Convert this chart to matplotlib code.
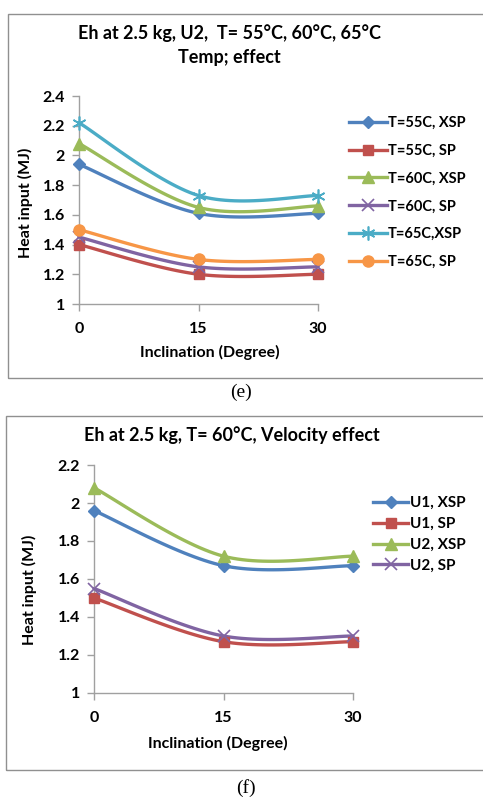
import numpy as np
import matplotlib
matplotlib.use("Agg")
import matplotlib.pyplot as plt
from matplotlib.patches import Rectangle

# ---------------- data ----------------
inclination = [0, 15, 30]

temp_labels = ["T=55C, XSP", "T=55C, SP", "T=60C, XSP", "T=60C, SP", "T=65C,XSP", "T=65C, SP"]
t55_xsp = [1.94, 1.61, 1.61]
t55_sp = [1.40, 1.20, 1.20]
t60_xsp = [2.08, 1.65, 1.66]
t60_sp = [1.45, 1.25, 1.25]
t65_xsp = [2.22, 1.73, 1.73]
t65_sp = [1.50, 1.30, 1.30]

vel_labels = ["U1, XSP", "U1, SP", "U2, XSP", "U2, SP"]
u1_xsp = [1.96, 1.67, 1.67]
u1_sp = [1.50, 1.27, 1.27]
u2_xsp = [2.08, 1.72, 1.72]
u2_sp = [1.55, 1.30, 1.30]

top_yticks = [1, 1.2, 1.4, 1.6, 1.8, 2, 2.2, 2.4]
bot_yticks = [1, 1.2, 1.4, 1.6, 1.8, 2, 2.2]

BLUE, RED, GREEN, PURPLE, AQUA, ORANGE = "#4F81BD", "#C0504D", "#9BBB59", "#8064A2", "#4BACC6", "#F79646"

W, H = 483, 798
FONT = "Lato"

plt.rcParams["font.family"] = [FONT, "DejaVu Sans"]
plt.rcParams["font.weight"] = "bold"

fig = plt.figure(figsize=(W / 100, H / 100), dpi=100)


def smooth(x, y, n=30):
    x = np.asarray(x, float)
    y = np.asarray(y, float)
    P = np.column_stack([x, y])
    Pe = np.vstack([P[0], P, P[-1]])
    out = []
    t = np.linspace(0, 1, n)[:, None]
    for i in range(len(P) - 1):
        p0, p3 = P[i], P[i + 1]
        c1 = p0 + (Pe[i + 2] - Pe[i]) / 6
        c2 = p3 - (Pe[i + 3] - Pe[i + 1]) / 6
        seg = ((1 - t) ** 3) * p0 + 3 * ((1 - t) ** 2) * t * c1 + 3 * (1 - t) * t ** 2 * c2 + t ** 3 * p3
        out.append(seg if i == 0 else seg[1:])
    s = np.vstack(out)
    return s[:, 0], s[:, 1]


def px_axes(left, top, right, bottom):
    return fig.add_axes([left / W, 1 - bottom / H, (right - left) / W, (bottom - top) / H])


def style_axes(ax, ymin, ymax, yticks):
    ax.set_xlim(0, 30)
    ax.set_ylim(ymin, ymax)
    ax.set_xticks(inclination)
    ax.set_yticks(yticks)
    ax.set_yticklabels([("%g" % v) for v in yticks])
    for s in ["top", "right"]:
        ax.spines[s].set_visible(False)
    for s in ["left", "bottom"]:
        ax.spines[s].set_color("#A0A0A0")
        ax.spines[s].set_linewidth(1.0)
    ax.tick_params(axis="both", colors="#A0A0A0", length=5, width=1.0, direction="out",
                   labelcolor="black", labelsize=11.5)
    ax.tick_params(axis="x", pad=8)
    ax.tick_params(axis="y", pad=5)
    for lbl in ax.get_xticklabels() + ax.get_yticklabels():
        lbl.set_fontweight("bold")
    ax.set_facecolor("none")


def plot_series(ax, y, color, marker, label, ms=7):
    xs, ys = smooth(inclination, y)
    ax.plot(xs, ys, color=color, lw=2.4, solid_capstyle="round", clip_on=False)
    mkw = dict(color=color, markersize=ms, clip_on=False, zorder=5)
    thin = marker in ("x", (6, 2, 0))
    if thin:
        mkw.update(markeredgewidth=1.2, markerfacecolor="none")
    ax.plot(inclination, y, ls="none", marker=marker, **mkw)
    handle = ax.plot([], [], color=color, lw=2.4, marker=marker,
                     markersize=ms, markeredgewidth=1.2 if thin else 1.0)[0]
    handle.set_label(label)
    return handle


# ---------------- frames ----------------
fig.add_artist(Rectangle((8 / W, 1 - 378 / H), (W + 5 - 8) / W, (378 - 14) / H,
                         transform=fig.transFigure, fill=False, edgecolor="#909090", lw=1.0))
fig.add_artist(Rectangle((6 / W, 1 - 770 / H), (W + 5 - 6) / W, (770 - 416) / H,
                         transform=fig.transFigure, fill=False, edgecolor="#909090", lw=1.0))

# ---------------- top chart ----------------
ax1 = px_axes(79, 96, 318, 304)
style_axes(ax1, 1, 2.4, top_yticks)
h = []
h.append(plot_series(ax1, t55_xsp, BLUE, "D", temp_labels[0], 6))
h.append(plot_series(ax1, t55_sp, RED, "s", temp_labels[1], 7))
h.append(plot_series(ax1, t60_xsp, GREEN, "^", temp_labels[2], 8))
h.append(plot_series(ax1, t60_sp, PURPLE, "x", temp_labels[3], 8))
h.append(plot_series(ax1, t65_xsp, AQUA, (6, 2, 0), temp_labels[4], 10))
h.append(plot_series(ax1, t65_sp, ORANGE, "o", temp_labels[5], 8))
fig.legend(handles=h, loc="upper left", bbox_to_anchor=(343 / W, 1 - 110 / H),
           frameon=False, handlelength=2.6, handletextpad=0.1, labelspacing=0.95,
           prop={"family": FONT, "weight": "bold", "size": 10.5}, borderaxespad=0)

fig.text(229 / W, 1 - 33 / H, "Eh at 2.5 kg, U2,  T= 55°C, 60°C, 65°C", ha="center", va="center",
         fontsize=13, fontweight="bold")
fig.text(229 / W, 1 - 58 / H, "Temp; effect", ha="center", va="center", fontsize=13, fontweight="bold")
fig.text(25 / W, 1 - 203 / H, "Heat input (MJ)", rotation=90, ha="center", va="center",
         fontsize=11.5, fontweight="bold")
fig.text(210 / W, 1 - 352 / H, "Inclination (Degree)", ha="center", va="center",
         fontsize=11.5, fontweight="bold")
fig.text(241 / W, 1 - 392 / H, "(e)", ha="center", va="center", fontsize=14,
         family="Liberation Serif", fontweight="normal")

# ---------------- bottom chart ----------------
ax2 = px_axes(94, 465, 353, 693)
style_axes(ax2, 1, 2.2, bot_yticks)
h2 = []
h2.append(plot_series(ax2, u1_xsp, BLUE, "D", vel_labels[0], 6))
h2.append(plot_series(ax2, u1_sp, RED, "s", vel_labels[1], 7))
h2.append(plot_series(ax2, u2_xsp, GREEN, "^", vel_labels[2], 8))
h2.append(plot_series(ax2, u2_sp, PURPLE, "x", vel_labels[3], 8))
fig.legend(handles=h2, loc="upper left", bbox_to_anchor=(367 / W, 1 - 490 / H),
           frameon=False, handlelength=2.3, handletextpad=0.1, labelspacing=0.45,
           prop={"family": FONT, "weight": "bold", "size": 11}, borderaxespad=0)

fig.text(232 / W, 1 - 435 / H, "Eh at 2.5 kg, T= 60°C, Velocity effect", ha="center", va="center",
         fontsize=13, fontweight="bold")
fig.text(29 / W, 1 - 590 / H, "Heat input (MJ)", rotation=90, ha="center", va="center",
         fontsize=11.5, fontweight="bold")
fig.text(218 / W, 1 - 743 / H, "Inclination (Degree)", ha="center", va="center",
         fontsize=11.5, fontweight="bold")
fig.text(246 / W, 1 - 788 / H, "(f)", ha="center", va="center", fontsize=14,
         family="Liberation Serif", fontweight="normal")

fig.savefig("out.png", dpi=100, facecolor="white")
